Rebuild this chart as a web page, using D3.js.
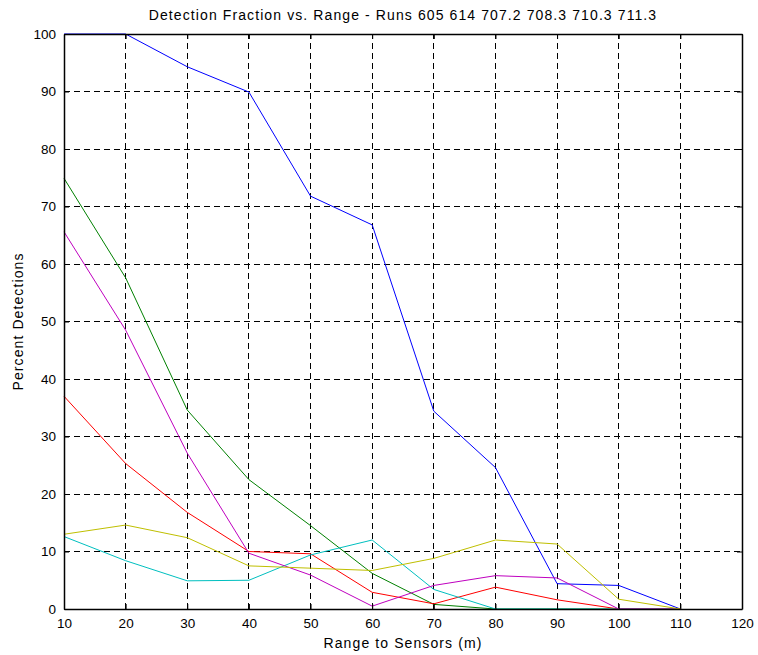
<!DOCTYPE html>
<html>
<head>
<meta charset="utf-8">
<script src="https://cdn.jsdelivr.net/npm/d3@7"></script>
<style>
  body { margin: 0; background: #fff; }
  text { font-family: "Liberation Sans", Arial, sans-serif; }
</style>
</head>
<body>
<script>
var width = 758;
var height = 655;
var margin = {top: 34, right: 16, bottom: 46, left: 64};   //plot box 64..742, 34..609

// data
var ranges = [10, 20, 30, 40, 50, 60, 70, 80, 90, 100, 110];
var blue    = [100, 100, 94.3, 89.9, 71.8, 66.8, 34.4, 24.6, 4.4, 4.1, 0];
var green   = [74.9, 57.6, 34.6, 22.5, 14.5, 6.2, 0.8, 0, 0, 0, 0];
var red     = [37.0, 25.3, 16.8, 10.0, 9.6, 2.9, 0.9, 3.8, 1.6, 0, 0];
var cyan    = [12.6, 8.4, 4.9, 5.0, 9.4, 12.0, 3.4, 0, 0, 0, 0];
var magenta = [65.6, 48.5, 27.1, 9.7, 5.9, 0.5, 4.1, 5.8, 5.4, 0, 0];
var yellow  = [13.0, 14.6, 12.4, 7.5, 7.1, 6.7, 8.8, 12.0, 11.3, 1.7, 0];
var xTicks = [10, 20, 30, 40, 50, 60, 70, 80, 90, 100, 110, 120];
var yTicks = [0, 10, 20, 30, 40, 50, 60, 70, 80, 90, 100];

var series = [
    {name: "605",   values: blue,    color: "#0000ff"},
    {name: "614",   values: green,   color: "#008000"},
    {name: "707.2", values: red,     color: "#ff0000"},
    {name: "708.3", values: cyan,    color: "#00bfbf"},
    {name: "710.3", values: magenta, color: "#bf00bf"},
    {name: "711.3", values: yellow,  color: "#bfbf00"}
];

var x = d3.scaleLinear().domain([10, 120]).range([margin.left, width - margin.right]);
var y = d3.scaleLinear().domain([0, 100]).range([height - margin.bottom, margin.top]);

var svg = d3.select("body").append("svg")
    .attr("width", width)
    .attr("height", height);

//grid
svg.append("g").selectAll("line").data(xTicks.slice(1, -1)).enter().append("line")
    .attr("x1", d => x(d)).attr("x2", d => x(d))
    .attr("y1", y(0)).attr("y2", y(100))
    .attr("stroke", "#000").attr("stroke-width", 1).attr("stroke-dasharray", "6,4")
    .attr("shape-rendering", "crispEdges");
svg.append("g").selectAll("line").data(yTicks.slice(1, -1)).enter().append("line")
    .attr("x1", x(10)).attr("x2", x(120))
    .attr("y1", d => y(d)).attr("y2", d => y(d))
    .attr("stroke", "#000").attr("stroke-width", 1).attr("stroke-dasharray", "6,4")
    .attr("shape-rendering", "crispEdges");

//lines
var line = d3.line().x((d, i) => x(ranges[i])).y(d => y(d));
svg.append("g").selectAll("path").data(series).enter().append("path")
    .attr("d", d => line(d.values))
    .attr("fill", "none")
    .attr("stroke", d => d.color)
    .attr("stroke-width", 1);

//axes, ticks inward on all sides
var xBottom = d3.axisBottom(x).tickValues(xTicks).tickSizeInner(-5).tickSizeOuter(0).tickPadding(9);
var xTop = d3.axisTop(x).tickValues(xTicks).tickSizeInner(-5).tickSizeOuter(0).tickFormat("");
var yLeft = d3.axisLeft(y).tickValues(yTicks).tickSizeInner(-5).tickSizeOuter(0).tickPadding(8);
var yRight = d3.axisRight(y).tickValues(yTicks).tickSizeInner(-5).tickSizeOuter(0).tickFormat("");

function styleAxis(g) {
    g.select(".domain").attr("stroke", "#000").attr("stroke-width", 1.5);
    g.selectAll(".tick line").attr("stroke", "#000");
    g.selectAll(".tick text").attr("fill", "#000").style("font-size", "13.5px")
        .style("font-family", "'Liberation Sans', Arial, sans-serif");
}

svg.append("g").attr("transform", "translate(0," + y(0) + ")").call(xBottom).call(styleAxis);
svg.append("g").attr("transform", "translate(0," + y(100) + ")").call(xTop).call(styleAxis);
svg.append("g").attr("transform", "translate(" + x(10) + ",0)").call(yLeft).call(styleAxis);
svg.append("g").attr("transform", "translate(" + x(120) + ",0)").call(yRight).call(styleAxis);

//labels
svg.append("text")
    .attr("x", (x(10) + x(120)) / 2).attr("y", 20)
    .attr("text-anchor", "middle").style("font-size", "14px").style("letter-spacing", "1.1px")
    .text("Detection Fraction vs. Range - Runs 605 614 707.2 708.3 710.3 711.3");
svg.append("text")
    .attr("x", (x(10) + x(120)) / 2).attr("y", 648)
    .attr("text-anchor", "middle").style("font-size", "14px").style("letter-spacing", "1.1px")
    .text("Range to Sensors (m)");
svg.append("text")
    .attr("transform", "translate(23," + (y(0) + y(100)) / 2 + ") rotate(-90)")
    .attr("text-anchor", "middle").style("font-size", "14px").style("letter-spacing", "1.1px")
    .text("Percent Detections");
</script>
</body>
</html>
